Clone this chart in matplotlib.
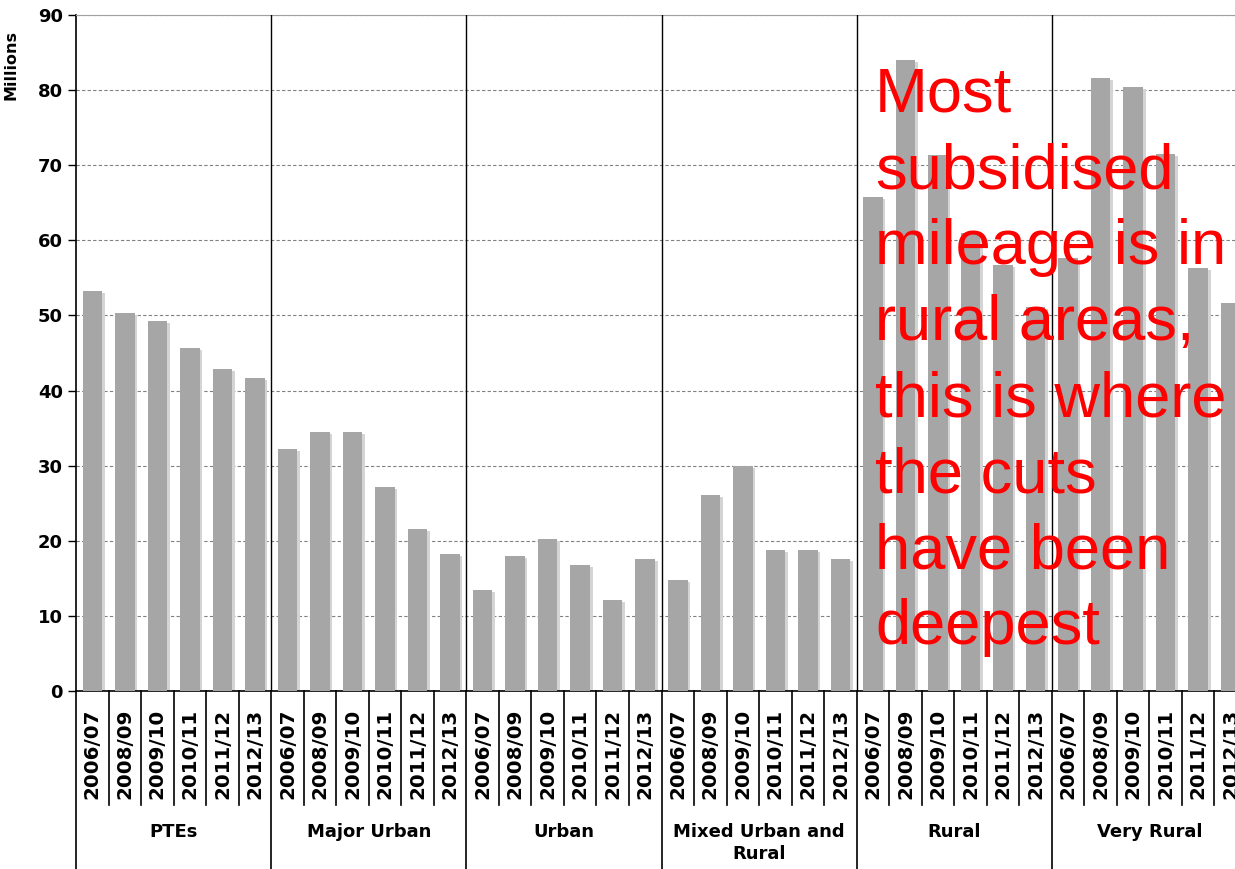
import matplotlib.pyplot as plt
import matplotlib.transforms as mtransforms

# ========== Data ==========
groups = ['PTEs', 'Major Urban', 'Urban', 'Mixed Urban and\nRural', 'Rural', 'Very Rural']
years = ['2006/07', '2008/09', '2009/10', '2010/11', '2011/12', '2012/13']

ptes = [53.3, 50.3, 49.3, 45.7, 42.9, 41.7]
major_urban = [32.2, 34.5, 34.5, 27.2, 21.6, 18.2]
urban = [13.4, 18.0, 20.2, 16.8, 12.1, 17.6]
mixed = [14.8, 26.1, 29.9, 18.8, 18.8, 17.6]
rural = [65.8, 84.0, 71.4, 61.0, 56.7, 51.1]
very_rural = [57.6, 81.6, 80.4, 71.5, 56.3, 51.7]

values = ptes + major_urban + urban + mixed + rural + very_rural
n_years = len(years)
x = list(range(len(values)))

# ========== Plot ==========
fig = plt.figure(figsize=(12.35, 8.69), dpi=100)
ax = fig.add_axes([76 / 1235, 178 / 869, 1171 / 1235, 676 / 869])

# shadow behind bars
ax.bar([i + 0.07 for i in x], [v - 0.25 for v in values], width=0.62,
       color='#d4d4d4', zorder=2)
ax.bar(x, values, width=0.6, color='#a6a6a6', zorder=3)

ax.set_xlim(-0.5, len(values) - 0.5)
ax.set_ylim(0, 90)
ax.set_yticks(range(0, 91, 10))
ax.yaxis.grid(True, linestyle=(0, (3, 2)), color='#808080', linewidth=0.8, zorder=0)
ax.set_axisbelow(True)
ax.tick_params(axis='y', labelsize=13, length=6, width=1, direction='out')
for lab in ax.get_yticklabels():
    lab.set_fontweight('bold')
ax.set_xticks([])

ax.spines['right'].set_visible(False)
ax.spines['top'].set_color('#a0a0a0')
ax.spines['left'].set_linewidth(1.2)
ax.spines['bottom'].set_linewidth(1.2)

ax.set_ylabel('Millions', fontsize=11.5, fontweight='bold')
ax.yaxis.set_label_coords(-0.0495, 0.926)

# group dividers inside plot
for g in range(1, len(groups)):
    ax.axvline(g * n_years - 0.5, color='black', linewidth=1, zorder=4)

# category axis below plot
trans = mtransforms.blended_transform_factory(ax.transData, ax.transAxes)
for i in range(len(values) + 1):
    xb = i - 0.5
    if i % n_years == 0:
        ax.plot([xb, xb], [0, -0.3], color='black', linewidth=1.2,
                transform=trans, clip_on=False)
    else:
        ax.plot([xb, xb], [0, -0.169], color='black', linewidth=1.2,
                transform=trans, clip_on=False)

for i in x:
    ax.text(i, -0.026, years[i % n_years], rotation=90, ha='center', va='top',
            fontsize=14.3, fontweight='bold', transform=trans)

for g, name in enumerate(groups):
    xc = g * n_years + (n_years - 1) / 2
    ax.text(xc, -0.195, name, ha='center', va='top', fontsize=13,
            fontweight='bold', transform=trans, linespacing=1.3)

fig.text(875 / 1235, 1 - 66 / 869,
         'Most\nsubsidised\nmileage is in\nrural areas,\nthis is where\nthe cuts\nhave been\ndeepest',
         color='red', fontsize=45.5, family='Liberation Sans', ha='left', va='top',
         linespacing=1.37, zorder=10)

fig.savefig('out.png', dpi=100)
